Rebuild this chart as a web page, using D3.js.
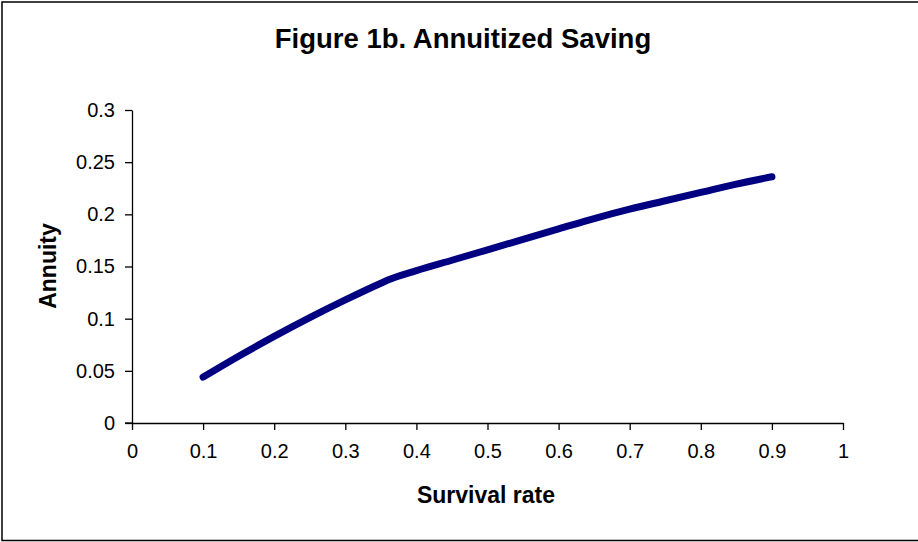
<!DOCTYPE html>
<html>
<head>
<meta charset="utf-8">
<script src="https://cdn.jsdelivr.net/npm/d3@7"></script>
<style>
  html, body { margin: 0; padding: 0; background: #fff; }
  svg { display: block; font-family: Arial, "Liberation Sans", sans-serif; }
</style>
</head>
<body>
<svg id="chart" width="918" height="542"></svg>
<script>
// survival rate (x) and annuity (y)
const survival = [0.1, 0.15, 0.2, 0.25, 0.3, 0.35, 0.36, 0.4, 0.45, 0.5, 0.55, 0.6, 0.65, 0.7, 0.75, 0.8, 0.85, 0.9];
const annuity = [0.044, 0.064, 0.083, 0.101, 0.118, 0.134, 0.137, 0.146, 0.156, 0.166, 0.176, 0.186, 0.196, 0.205, 0.213, 0.221, 0.229, 0.236];
const xTicks = [0, 0.1, 0.2, 0.3, 0.4, 0.5, 0.6, 0.7, 0.8, 0.9, 1];
const yTicks = [0, 0.05, 0.1, 0.15, 0.2, 0.25, 0.3];

const size = { width: 918, height: 542 };
const plot = { left: 132, right: 843, top: 110, bottom: 423 };

const svg = d3.select('#chart');

// outer frame
svg.append('rect')
  .attr('x', 2).attr('y', 2)
  .attr('width', size.width + 10).attr('height', size.height - 3.5)
  .attr('fill', 'none').attr('stroke', '#000').attr('stroke-width', 1.5);

const x = d3.scaleLinear().domain([0, 1]).range([plot.left, plot.right]);
const y = d3.scaleLinear().domain([0, 0.3]).range([plot.bottom, plot.top]);

const xAxis = svg.append('g')
  .attr('transform', `translate(0, ${plot.bottom})`)
  .call(d3.axisBottom(x).tickValues(xTicks).tickFormat(d => d3.format('')(d)).tickSize(7).tickSizeOuter(0).tickPadding(14));

const yAxis = svg.append('g')
  .attr('transform', `translate(${plot.left}, 0)`)
  .call(d3.axisLeft(y).tickValues(yTicks).tickFormat(d => d3.format('')(+d.toFixed(2))).tickSize(7).tickSizeOuter(0).tickPadding(10));

[xAxis, yAxis].forEach(g => {
  g.select('.domain').attr('stroke', '#000').attr('stroke-width', 1.3);
  g.selectAll('.tick line').attr('stroke', '#000').attr('stroke-width', 1.3);
  g.selectAll('.tick text')
    .attr('fill', '#000')
    .style('font-family', 'Arial, "Liberation Sans", sans-serif')
    .style('font-size', '20px');
});

// extend x axis line to meet the y tick at 0
svg.append('line')
  .attr('x1', plot.left - 7).attr('x2', plot.left)
  .attr('y1', plot.bottom).attr('y2', plot.bottom)
  .attr('stroke', '#000').attr('stroke-width', 1.3);

const points = survival.map((s, i) => [s, annuity[i]]);

svg.append('path')
  .datum(points)
  .attr('fill', 'none')
  .attr('stroke', '#000080')
  .attr('stroke-width', 7)
  .attr('stroke-linecap', 'round')
  .attr('stroke-linejoin', 'round')
  .attr('d', d3.line().x(d => x(d[0])).y(d => y(d[1])).curve(d3.curveMonotoneX));

// title
svg.append('text')
  .attr('x', 463).attr('y', 48)
  .attr('text-anchor', 'middle')
  .style('font-size', '27.5px').style('font-weight', 'bold')
  .text('Figure 1b. Annuitized Saving');

// axis labels
svg.append('text')
  .attr('x', 486).attr('y', 503)
  .attr('text-anchor', 'middle')
  .style('font-size', '23px').style('font-weight', 'bold')
  .text('Survival rate');

svg.append('text')
  .attr('transform', 'translate(56, 266) rotate(-90)')
  .attr('text-anchor', 'middle')
  .style('font-size', '23px').style('font-weight', 'bold')
  .text('Annuity');
</script>
</body>
</html>
